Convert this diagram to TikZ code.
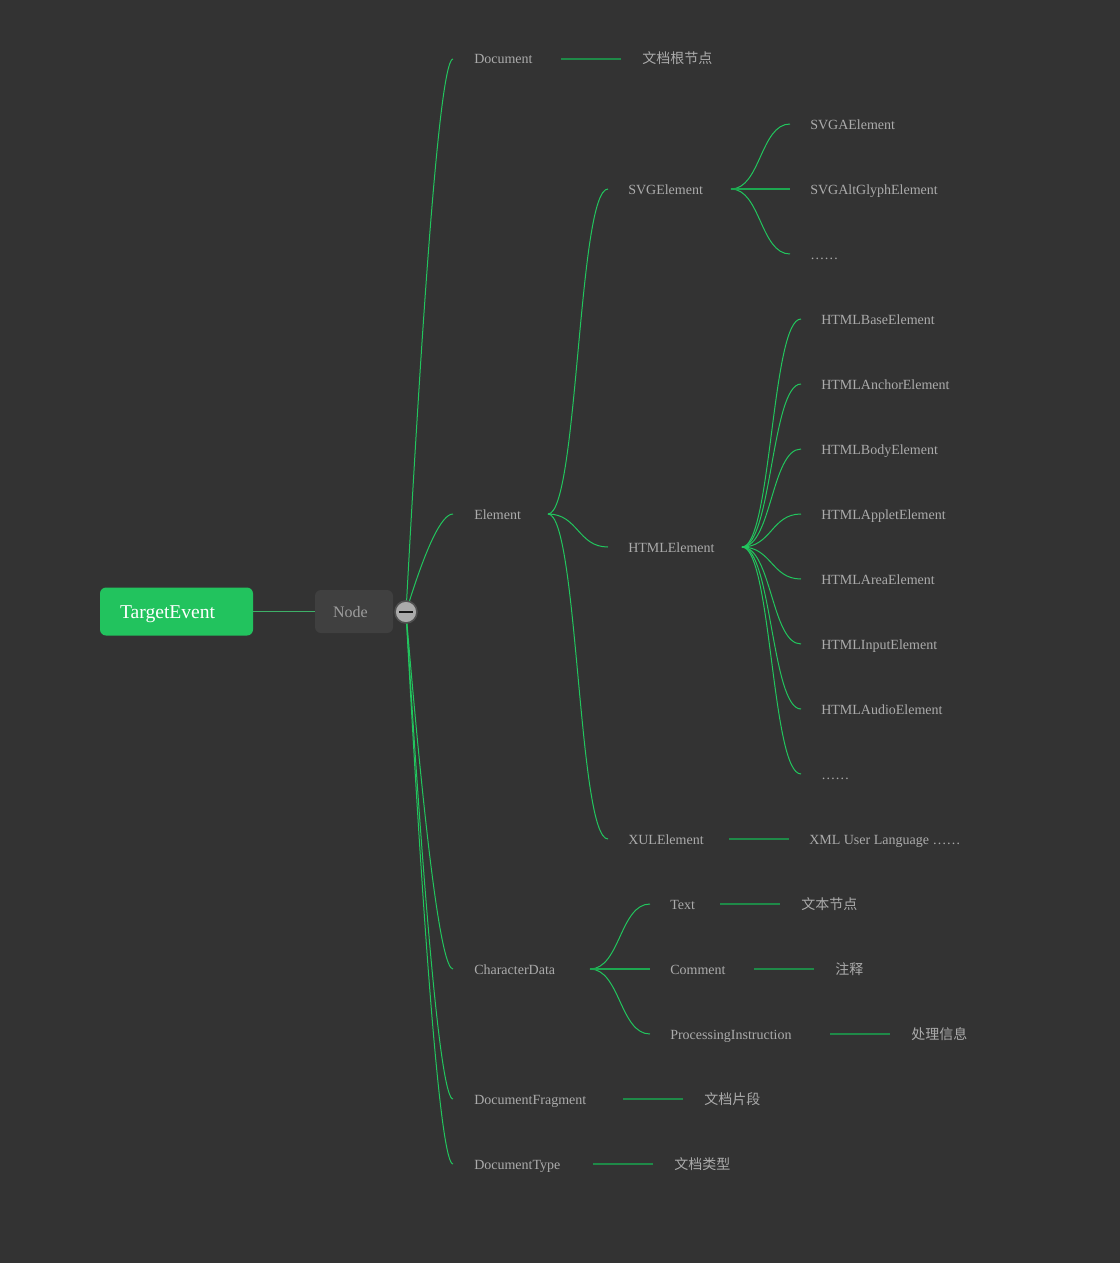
\documentclass[tikz,border=0pt]{standalone}
\usepackage{fontspec}
\setmainfont{Liberation Serif}
\newfontfamily\cjk{Noto Sans CJK SC}
\usetikzlibrary{calc}
\definecolor{bg}{HTML}{333333}
\definecolor{brgreen}{HTML}{22C55E}
\definecolor{dkgreen}{HTML}{1F8A48}
\definecolor{rootgreen}{HTML}{22C35E}
\definecolor{txt}{HTML}{ABABAB}
\definecolor{nodefill}{HTML}{404040}
\definecolor{nodetxt}{HTML}{9E9E9E}
\definecolor{foldfill}{HTML}{ABABAB}
\definecolor{foldline}{HTML}{505050}

% symmetric S-shaped link (control points at half width)
\newcommand\sublink[2]{%
  \draw[branch] let \p1=(#1), \p2=(#2) in
    (\p1) .. controls ({(\x1+\x2)/2},\y1) and ({(\x1+\x2)/2},\y2) .. (\p2);}
% first-level link: quadratic curve, control point just left of the end
\newcommand\mainlink[2]{%
  \draw[branch] let \p1=(#1), \p2=(#2) in
    (\p1) .. controls ({\x1+0.6667*(\x2-12.75pt-\x1)},{\y1+0.6667*(\y2-\y1)})
      and ({\x2-8.5pt},\y2) .. (\p2);}

\begin{document}
\begin{tikzpicture}[x=0.75pt,y=-0.75pt,
  lbl/.style={anchor=west,inner sep=0pt,text height=7.5pt,text depth=0pt,
    text=txt,font=\fontsize{10.5pt}{12pt}\selectfont},
  zh/.style={lbl,font=\fontsize{10.5pt}{12pt}\selectfont\cjk},
  branch/.style={draw=brgreen,line width=0.75pt},
  straightlink/.style={draw=brgreen!85!black,line width=1.5pt},
  descline/.style={draw=dkgreen,line width=1.5pt},
  rootbox/.style={fill=rootgreen,rounded corners=4.5pt,inner xsep=15pt,inner ysep=0pt,
    text width=84.75pt,align=left,minimum height=36pt,text height=11.2pt,text depth=0pt,
    text=white,font=\fontsize{14.7pt}{16pt}\selectfont},
  nodebox/.style={fill=nodefill,rounded corners=4.5pt,inner xsep=13.5pt,inner ysep=0pt,
    text width=31.5pt,align=left,minimum height=32.25pt,text height=8.4pt,text depth=0pt,
    text=nodetxt,font=\fontsize{12pt}{14pt}\selectfont}]

\fill[bg] (0,0) rectangle (1120,1263);
\useasboundingbox (0,0) rectangle (1120,1263);

% root and its only child
\node[rootbox] (root) at (176.5,611.5) {TargetEvent};
\node[nodebox] (nd) at (354,611.5) {Node};
\draw[brgreen!70!gray,line width=0.75pt] (root.east) -- (nd.west);
\coordinate (fc) at (406,612);

% first level
\node[lbl] (doc)  at (474,59)   {Document};
\node[lbl] (el)   at (474,514)  {Element};
\node[lbl] (cd)   at (474,969)  {CharacterData};
\node[lbl] (frag) at (474,1099) {DocumentFragment};
\node[lbl] (dtyp) at (474,1164) {DocumentType};

\foreach \nm in {doc,el,cd,frag,dtyp}{\mainlink{fc}{[xshift=-15.75pt]\nm.west}}

% fold button
\node[circle,fill=foldfill,draw=foldline,line width=1.2pt,minimum size=16.5pt,
  inner sep=0pt] (fold) at (fc) {};
\draw[line width=1.3pt,black!90] ([xshift=-5.25pt]fold.center) -- ([xshift=5.25pt]fold.center);

% descriptions of first level
\node[zh] (docd)  at (642,59)   {文档根节点};
\node[zh] (fragd) at (704,1099) {文档片段};
\node[zh] (dtypd) at (674,1164) {文档类型};
\draw[descline] ([xshift=-15.75pt]docd.west) -- ++(-45pt,0);
\draw[descline] ([xshift=-15.75pt]fragd.west) -- ++(-45pt,0);
\draw[descline] ([xshift=-15.75pt]dtypd.west) -- ++(-45pt,0);

% Element subtree
\coordinate (jel) at (548,514);
\node[lbl] (svg)  at (628,189) {SVGElement};
\node[lbl] (html) at (628,547) {HTMLElement};
\node[lbl] (xul)  at (628,839) {XULElement};
\foreach \nm in {svg,html,xul}{\sublink{jel}{[xshift=-15pt]\nm.west}}

\node[lbl] (xuld) at (809,839) {XML User Language ……};
\draw[descline] ([xshift=-15pt]xuld.west) -- ++(-45pt,0);

% SVG elements
\coordinate (jsvg) at (731,189);
\node[lbl] (svga)  at (810,124) {SVGAElement};
\node[lbl] (svgg)  at (810,189) {SVGAltGlyphElement};
\node[lbl] (svgx)  at (810,254) {……};
\foreach \nm in {svga,svgx}{\sublink{jsvg}{[xshift=-15pt]\nm.west}}
\draw[straightlink] (jsvg) -- ([xshift=-15pt]svgg.west);

% HTML elements
\coordinate (jhtml) at (742,547);
\node[lbl] (h1) at (821,319) {HTMLBaseElement};
\node[lbl] (h2) at (821,384) {HTMLAnchorElement};
\node[lbl] (h3) at (821,449) {HTMLBodyElement};
\node[lbl] (h4) at (821,514) {HTMLAppletElement};
\node[lbl] (h5) at (821,579) {HTMLAreaElement};
\node[lbl] (h6) at (821,644) {HTMLInputElement};
\node[lbl] (h7) at (821,709) {HTMLAudioElement};
\node[lbl] (h8) at (821,774) {……};
\foreach \nm in {h1,h2,h3,h4,h5,h6,h7,h8}{\sublink{jhtml}{[xshift=-15pt]\nm.west}}

% CharacterData subtree
\coordinate (jcd) at (590,969);
\node[lbl] (txtn) at (670,904)  {Text};
\node[lbl] (cmt)  at (670,969)  {Comment};
\node[lbl] (pi)   at (670,1034) {ProcessingInstruction};
\foreach \nm in {txtn,pi}{\sublink{jcd}{[xshift=-15pt]\nm.west}}
\draw[straightlink] (jcd) -- ([xshift=-15pt]cmt.west);

\node[zh] (txtd) at (801,904)  {文本节点};
\node[zh] (cmtd) at (835,969)  {注释};
\node[zh] (pid)  at (911,1034) {处理信息};
\draw[descline] ([xshift=-15.75pt]txtd.west) -- ++(-45pt,0);
\draw[descline] ([xshift=-15.75pt]cmtd.west) -- ++(-45pt,0);
\draw[descline] ([xshift=-15.75pt]pid.west) -- ++(-45pt,0);

\end{tikzpicture}
\end{document}
